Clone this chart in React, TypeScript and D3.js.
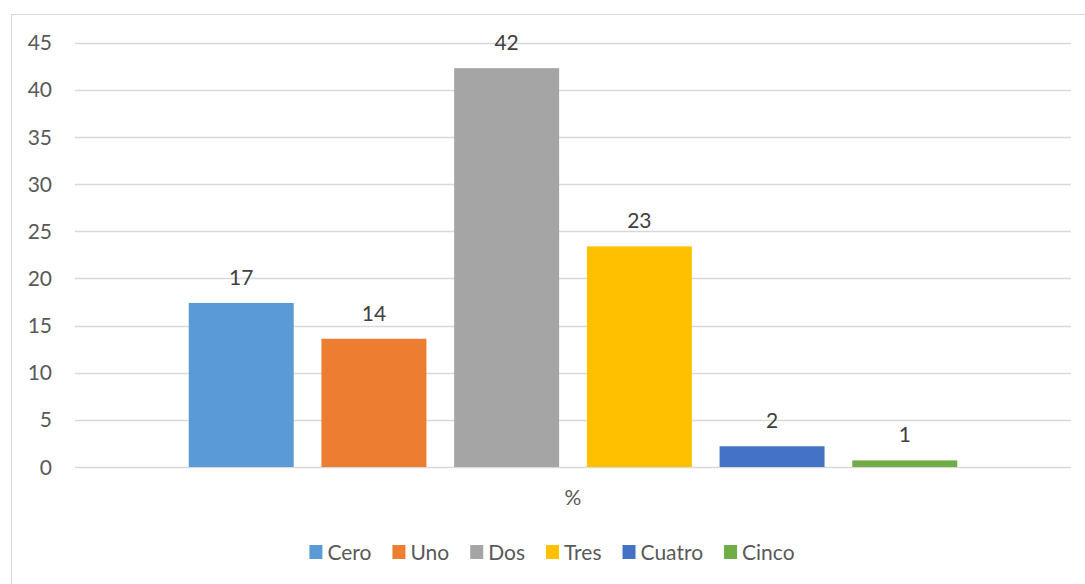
import React, { useEffect, useRef } from "react";
import * as d3 from "d3";

const categories = ["%"];
const seriesNames = ["Cero", "Uno", "Dos", "Tres", "Cuatro", "Cinco"];
const seriesValues = [17.4, 13.6, 42.3, 23.4, 2.2, 0.7];
const seriesColors = ["#5B9BD5", "#ED7D31", "#A5A5A5", "#FFC000", "#4472C4", "#70AD47"];
const yTicks = [0, 5, 10, 15, 20, 25, 30, 35, 40, 45];

const W = 1085;
const H = 584;
const FONT = "Lato, 'Open Sans', sans-serif";
const FS = 21;

export default function App() {
  const ref = useRef<SVGSVGElement | null>(null);

  useEffect(() => {
    const svg = d3.select(ref.current);
    svg.selectAll("*").remove();

    // chart area (extends beyond the visible canvas on the right and bottom)
    const chartL = 11, chartT = 14, chartR = 1093;
    svg.append("rect")
      .attr("x", chartL + 0.5).attr("y", chartT + 0.5)
      .attr("width", chartR - chartL).attr("height", H + 20)
      .attr("fill", "#fff").attr("stroke", "#D9D9D9").attr("stroke-width", 1);

    const plotL = 75, plotR = 1071, plotT = 42.7, plotB = 467;
    const y = d3.scaleLinear().domain([0, 45]).range([plotB, plotT]);
    const x0 = d3.scaleBand<string>().domain(categories).range([plotL, plotR]).paddingOuter(0.148).paddingInner(0);
    const x1 = d3.scaleBand<string>().domain(seriesNames).range([0, x0.bandwidth()]).paddingInner(0.209).paddingOuter(0);

    // gridlines
    svg.append("g").selectAll("line").data(yTicks).join("line")
      .attr("x1", plotL).attr("x2", plotR)
      .attr("y1", d => Math.round(y(d)) + 0.5).attr("y2", d => Math.round(y(d)) + 0.5)
      .attr("stroke", "#D9D9D9").attr("stroke-width", 1.5);

    // y tick labels
    svg.append("g").selectAll("text").data(yTicks).join("text")
      .attr("x", 52).attr("y", d => y(d))
      .attr("dy", "0.36em")
      .attr("text-anchor", "end")
      .attr("font-family", FONT).attr("font-size", FS)
      .attr("fill", "#595959")
      .text(d => String(d));

    // bars
    const g = svg.append("g").attr("transform", `translate(${x0(categories[0])},0)`);
    const bars = seriesNames.map((n, i) => ({ name: n, value: seriesValues[i], color: seriesColors[i] }));
    g.selectAll("rect").data(bars).join("rect")
      .attr("x", d => x1(d.name)!)
      .attr("width", x1.bandwidth())
      .attr("y", d => y(d.value))
      .attr("height", d => y(0) - y(d.value))
      .attr("fill", d => d.color);

    const fmt = d3.format(".0f");
    g.selectAll("text").data(bars).join("text")
      .attr("x", d => x1(d.name)! + x1.bandwidth() / 2)
      .attr("y", d => y(d.value) - 18)
      .attr("text-anchor", "middle")
      .attr("font-family", FONT).attr("font-size", FS)
      .attr("fill", "#404040")
      .text(d => fmt(d.value));

    // category label
    svg.append("text")
      .attr("x", x0(categories[0])! + x0.bandwidth() / 2)
      .attr("y", 505)
      .attr("text-anchor", "middle")
      .attr("font-family", FONT).attr("font-size", FS)
      .attr("fill", "#595959")
      .text(categories[0]);

    // legend, centred on the chart area
    const leg = svg.append("g");
    const items = leg.selectAll("g").data(bars).join("g");
    items.append("rect").attr("width", 13).attr("height", 14).attr("y", 545).attr("fill", d => d.color);
    const texts = items.append("text")
      .attr("x", 18).attr("y", 559.5)
      .attr("font-family", FONT).attr("font-size", FS)
      .attr("fill", "#595959")
      .text(d => d.name);
    const widths: number[] = [];
    texts.each(function () { widths.push((this as SVGTextElement).getComputedTextLength()); });
    const gap = 21;
    const itemW = widths.map(w => 18 + w);
    const total = d3.sum(itemW) + gap * (itemW.length - 1);
    let cx = (chartL + chartR) / 2 - total / 2;
    const offs: number[] = [];
    itemW.forEach(w => { offs.push(cx); cx += w + gap; });
    items.attr("transform", (_d, i) => `translate(${offs[i]},0)`);
  }, []);

  return (
    <svg
      ref={ref}
      width={W}
      height={H}
      style={{ position: "absolute", left: 0, top: 0, background: "#fff" }}
    />
  );
}
